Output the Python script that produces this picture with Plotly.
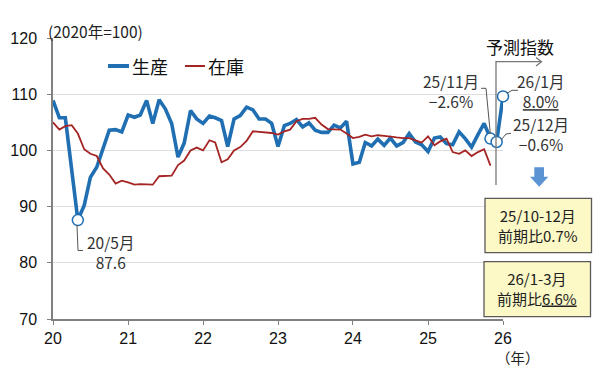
import pandas as pd
import plotly.graph_objects as go

# ---------------- data ----------------
prod_months = pd.date_range("2020-01-01", "2026-01-01", freq="MS")
production = [
    108.9, 105.8, 105.8, 96.4, 87.6, 90.2, 95.2, 97.0, 100.6, 103.6, 103.7, 103.3,   # 2020
    106.3, 105.9, 106.3, 108.9, 104.8, 109.0, 107.4, 104.8, 98.8, 101.3, 107.1, 105.6,  # 2021
    104.8, 106.1, 105.8, 105.3, 100.7, 105.6, 106.2, 107.7, 107.2, 105.6, 105.6, 104.8, # 2022
    100.7, 104.4, 104.8, 105.5, 104.2, 104.9, 103.6, 103.2, 103.2, 104.5, 104.0, 105.2, # 2023
    97.6, 97.9, 101.4, 100.8, 102.0, 100.9, 102.2, 100.8, 101.4, 103.0, 101.5, 101.0,   # 2024
    99.8, 102.2, 102.4, 101.2, 101.0, 103.3, 102.1, 100.6, 102.8, 104.8, 102.1, 101.5,  # 2025
    109.6,                                                                               # 2026/1
]
inv_months = pd.date_range("2020-01-01", "2025-11-01", freq="MS")
inventory = [
    105.0, 103.7, 104.3, 104.5, 103.0, 100.2, 99.4, 99.0, 96.8, 95.7, 94.1, 94.6,
    94.3, 93.9, 94.0, 93.9, 93.9, 95.4, 95.5, 95.5, 97.4, 98.2, 100.0, 100.5,
    100.0, 101.8, 101.4, 97.9, 98.4, 100.0, 100.6, 101.7, 103.4, 103.3, 103.2, 103.1,
    102.8, 103.4, 103.7, 105.2, 105.6, 105.6, 105.8, 104.6, 103.8, 103.7, 103.7, 103.0,
    102.2, 102.4, 102.8, 102.5, 102.7, 102.6, 102.4, 102.3, 102.2, 102.2, 101.8, 101.4,
    102.5, 100.9, 101.6, 102.1, 99.7, 99.4, 100.0, 99.0, 99.7, 100.2, 97.3,
]
marked_months = ["2020-05-01", "2025-11-01", "2025-12-01", "2026-01-01"]
marked_values = [87.6, 102.1, 101.5, 109.6]

y_ticks = [70, 80, 90, 100, 110, 120]
x_tick_dates = ["2020-01-01", "2021-01-01", "2022-01-01", "2023-01-01",
                "2024-01-01", "2025-01-01", "2026-01-01"]
x_tick_labels = ["20", "21", "22", "23", "24", "25", "26"]

series_names = ["生産", "在庫"]

BLUE = "#1f6fb2"
RED = "#a52424"
TXT = "#333333"
JP = "Noto Sans CJK JP"

# ---------------- layout helpers (pixel -> paper) ----------------
L, R, T, B = 53, 97, 38, 56
W, H = 600, 375
PW, PH = W - L - R, H - T - B


def px(x):
    return (x - L) / PW


def py(y):
    return (H - B - y) / PH


fig = go.Figure()
fig.add_trace(go.Scatter(x=prod_months, y=production, mode="lines",
                         line=dict(color=BLUE, width=3.6), name=series_names[0],
                         cliponaxis=False, hoverinfo="x+y"))
fig.add_trace(go.Scatter(x=inv_months, y=inventory, mode="lines",
                         line=dict(color=RED, width=1.8), name=series_names[1],
                         hoverinfo="x+y"))
fig.add_trace(go.Scatter(x=marked_months, y=marked_values, mode="markers",
                         marker=dict(symbol="circle", size=11, color="white",
                                     line=dict(color=BLUE, width=1.5)),
                         cliponaxis=False, showlegend=False, hoverinfo="skip"))

shapes = []
annots = []


def path_px(points, **kw):
    d = "M " + " L ".join(f"{px(a):.5f},{py(b):.5f}" for a, b in points)
    return dict(type="path", xref="paper", yref="paper", path=d, **kw)


def text_px(x, y, s, size=14, anchor="center", color=TXT, family=JP):
    annots.append(dict(xref="paper", yref="paper", x=px(x), y=py(y), text=s,
                       showarrow=False, xanchor=anchor, yanchor="middle",
                       align=anchor if anchor != "center" else "center",
                       font=dict(size=size, color=color, family=family)))


# legend (manual)
shapes.append(path_px([(108, 66), (129, 66)], line=dict(color=BLUE, width=4)))
shapes.append(path_px([(185, 66), (205, 66)], line=dict(color=RED, width=2)))
text_px(130, 66, series_names[0], size=18, anchor="left", color="#111")
text_px(206, 66, series_names[1], size=18, anchor="left", color="#111")

# unit
text_px(46, 31, "(2020年=100)", size=15.5, anchor="left", color="#222")
# year label
text_px(518, 358, "（年）", size=14.5, color="#222")

# forecast separator + arrow
shapes.append(path_px([(496, 185), (496, 61.7), (541.5, 61.7)], line=dict(color="#777", width=1.3)))
shapes.append(path_px([(536, 57.5), (541.5, 61.7), (536, 66)], line=dict(color="#777", width=1.3)))
text_px(520, 46.5, "予測指数", size=17, color="#111")

# leader lines
lead = dict(color="#555", width=1)
shapes.append(path_px([(77, 225), (78, 250.5), (83, 250.5)], line=lead))
shapes.append(path_px([(481, 88.3), (486, 88.3), (490.3, 133.5)], line=lead))
shapes.append(path_px([(507, 93.3), (512, 90.3), (518, 90.3)], line=lead))
shapes.append(path_px([(501, 140), (506, 134), (511, 133.3)], line=lead))

# point labels (two-line)
text_px(110, 252, "20/5月<br>87.6", size=15.5)
text_px(451, 90.5, "25/11月<br>−2.6%", size=15.5)
text_px(540, 91, "26/1月<br><u>8.0%</u>", size=15.5)
text_px(541, 133.5, "25/12月<br>−0.6%", size=15.5)

# block arrow
shapes.append(dict(type="path", xref="paper", yref="paper",
                   path="M " + " L ".join(f"{px(a):.5f},{py(b):.5f}" for a, b in [
                       (534.3, 167.3), (544, 167.3), (544, 176.7), (548.3, 176.7),
                       (539.2, 186.7), (530, 176.7), (534.3, 176.7)]) + " Z",
                   fillcolor="#5b93d3", line=dict(width=0)))

# boxes
for (x0, y0, x1, y1) in [(485, 198.3, 591.5, 252.7), (484, 261.7, 590.5, 316.7)]:
    shapes.append(dict(type="rect", xref="paper", yref="paper",
                       x0=px(x0), x1=px(x1), y0=py(y1), y1=py(y0),
                       fillcolor="#fcf9c6", line=dict(color="#5a5a5a", width=1.3)))
text_px(538, 225.5, "25/10-12月<br>前期比0.7%", size=15, color="#222")
text_px(537, 288.5, "26/1-3月<br>前期比<u>6.6%</u>", size=15, color="#222")

fig.update_layout(
    width=W, height=H,
    margin=dict(l=L, r=R, t=T, b=B),
    paper_bgcolor="white", plot_bgcolor="white",
    showlegend=False,
    shapes=shapes, annotations=annots,
    font=dict(family=JP, color=TXT),
)
fig.update_xaxes(
    type="date", range=["2020-01-01", "2026-01-01"], automargin=False,
    tickvals=x_tick_dates, ticktext=x_tick_labels,
    showgrid=False, zeroline=False,
    showline=True, linecolor="#808080", linewidth=1.5,
    ticks="outside", ticklen=4, tickcolor="#808080",
    tickfont=dict(family="Liberation Sans", size=16, color="#111"),
)
fig.update_yaxes(
    range=[70, 120], tickvals=y_ticks, automargin=False,
    showgrid=True, gridcolor="#dedede", gridwidth=1,
    zeroline=False, showline=True, linecolor="#808080", linewidth=1.5,
    ticks="outside", ticklen=4, tickcolor="#808080",
    tickfont=dict(family="Liberation Sans", size=16, color="#111"),
    ticklabelstandoff=7,
)

fig.write_html("out.html", config={"displayModeBar": False},
               post_script="document.body.style.margin='0';")
